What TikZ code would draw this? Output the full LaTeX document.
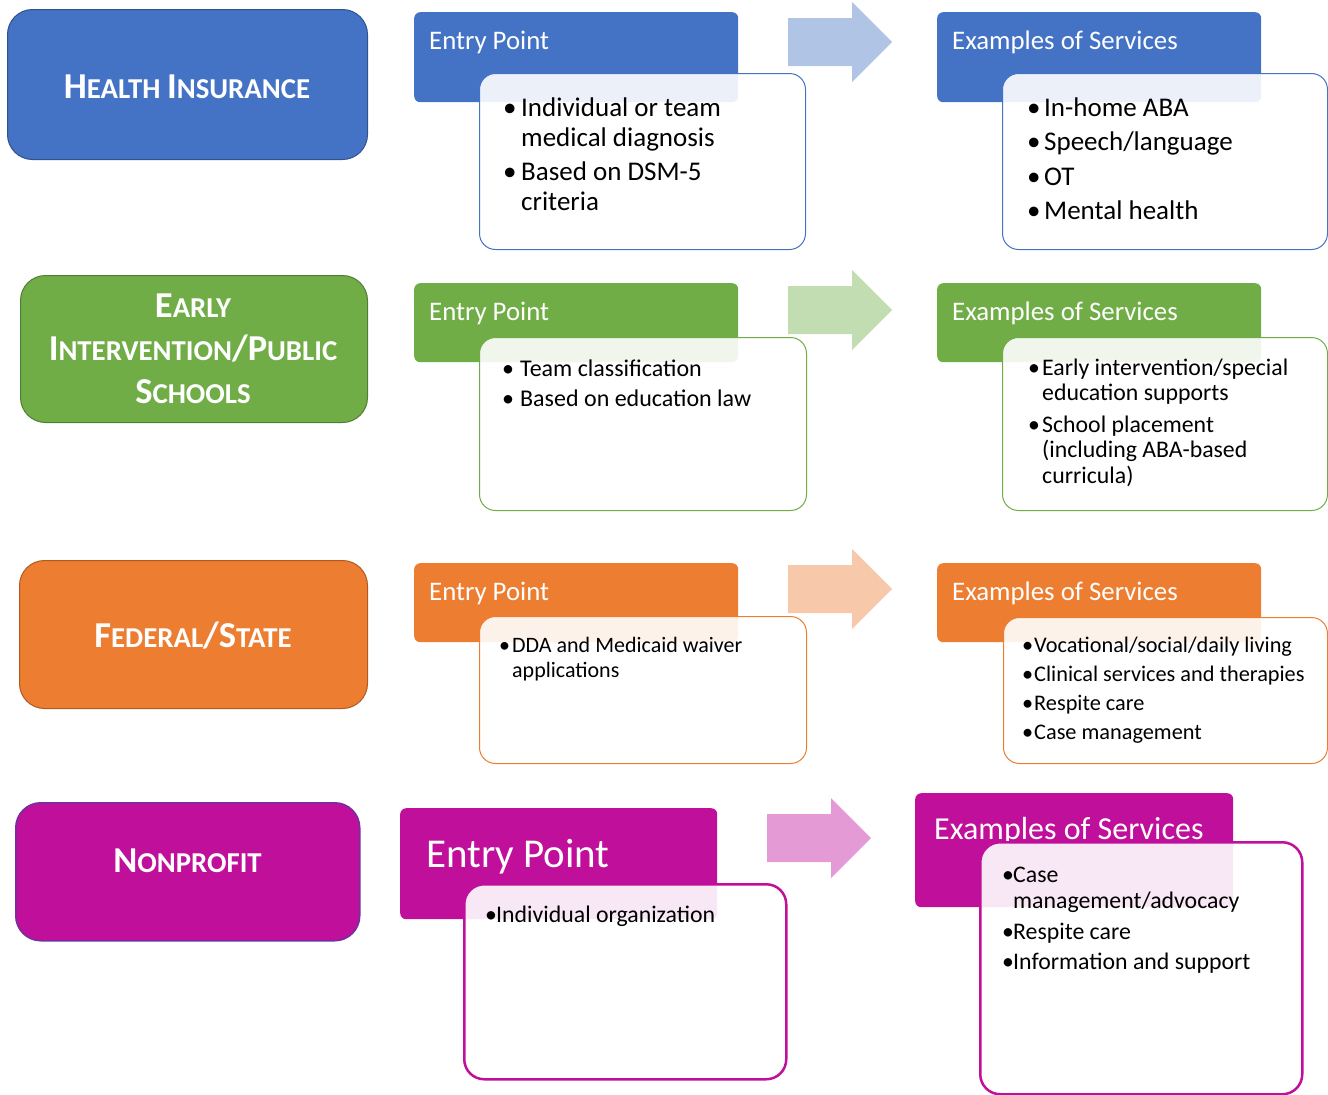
\documentclass[tikz,border=0pt]{standalone}
\usepackage{fontspec}
\setmainfont{Carlito}
\usetikzlibrary{positioning}

\definecolor{hblue}{HTML}{4472C4}
\definecolor{hblueD}{HTML}{2F528F}
\definecolor{hgreen}{HTML}{70AD47}
\definecolor{hgreenD}{HTML}{507E32}
\definecolor{horange}{HTML}{ED7D31}
\definecolor{horangeD}{HTML}{AE5A21}
\definecolor{hmag}{HTML}{C00F9A}
\definecolor{hmagD}{HTML}{7030A0}

% small caps by hand: big first letter, smaller rest
\newcommand\capword[2]{{\fontsize{36.5}{40}\selectfont #1}{\fontsize{28.8}{40}\selectfont #2}}
% bullet in a box of given width
\newcommand\bl[1]{\makebox[#1pt][l]{\textbullet}}

\begin{document}
\begin{tikzpicture}[x=1pt, y=-1pt,
    catbox/.style={rounded corners=25pt, line width=1pt, anchor=north west, inner sep=0pt},
    lbl/.style={anchor=base, inner sep=0pt, text=white, font=\bfseries\fontsize{28.8}{43}\selectfont},
    hdr/.style={rounded corners=6pt, anchor=north west, inner sep=0pt},
    hdrtxt/.style={anchor=base west, inner sep=0pt, text=white, font=\fontsize{26.8}{30}\selectfont},
    body/.style={rounded corners=16pt, fill=white, fill opacity=0.9, line width=1pt, anchor=north west, inner sep=0pt},
    items/.style={anchor=base west, inner sep=0pt, text=black}
  ]
  \useasboundingbox (0,0) rectangle (1328,1095);

  % block arrows between entry point and services
  \foreach \ax/\ay/\ac in {788/42/hblue, 788/310/hgreen, 788/589/horange, 767/838/hmag}
    \fill[\ac!42!white] (\ax,\ay-24) -- (\ax+64,\ay-24) -- (\ax+64,\ay-40) -- (\ax+104,\ay)
      -- (\ax+64,\ay+40) -- (\ax+64,\ay+24) -- (\ax,\ay+24) -- cycle;

  % health insurance
  \node[catbox, fill=hblue, draw=hblueD, minimum width=360pt, minimum height=150pt] (hi) at (7,9) {};
  \node[lbl] (hiT) at (187,98) {\capword{H}{EALTH} \capword{I}{NSURANCE}};
  \node[hdr, fill=hblue, minimum width=324pt, minimum height=90pt] (hiE) at (414,12) {};
  \node[hdrtxt] (hiEt) at (429,49) {Entry Point};
  \node[body, draw=hblue, minimum width=326pt, minimum height=176pt] (hiEb) at (479,73) {};
  \node[items, font=\fontsize{27}{30}\selectfont] (hiEi) at (503,116) {\begin{tabular}[t]{@{}l@{}l@{}}
      \bl{18} & Individual or team\\ & medical diagnosis\\[4pt]
      \bl{18} & Based on DSM-5\\ & criteria\end{tabular}};
  \node[hdr, fill=hblue, minimum width=324pt, minimum height=90pt] (hiS) at (937,12) {};
  \node[hdrtxt] (hiSt) at (952,49) {Examples of Services};
  \node[body, draw=hblue, minimum width=325pt, minimum height=176pt] (hiSb) at (1002,73) {};
  \node[items, font=\fontsize{27}{34.5}\selectfont] (hiSi) at (1027,116) {\begin{tabular}[t]{@{}l@{}l@{}}
      \bl{17} & In-home ABA\\ \bl{17} & Speech/language\\
      \bl{17} & OT\\ \bl{17} & Mental health\end{tabular}};

  % early intervention / public schools
  \node[catbox, fill=hgreen, draw=hgreenD, minimum width=347pt, minimum height=147pt] (ei) at (20,275) {};
  \node[lbl] (eiT) at (193,317) {\begin{tabular}[t]{@{}c@{}}
      \capword{E}{ARLY}\\ \capword{I}{NTERVENTION}\capword{/P}{UBLIC}\\ \capword{S}{CHOOLS}\end{tabular}};
  \node[hdr, fill=hgreen, minimum width=324pt, minimum height=79pt] (eiE) at (414,283) {};
  \node[hdrtxt] (eiEt) at (429,320) {Entry Point};
  \node[body, draw=hgreen, minimum width=327pt, minimum height=173pt] (eiEb) at (479,337) {};
  \node[items, font=\fontsize{24}{30}\selectfont] (eiEi) at (502,376) {\begin{tabular}[t]{@{}l@{}l@{}}
      \bl{18} & Team classification\\ \bl{18} & Based on education law\end{tabular}};
  \node[hdr, fill=hgreen, minimum width=324pt, minimum height=79pt] (eiS) at (937,283) {};
  \node[hdrtxt] (eiSt) at (952,320) {Examples of Services};
  \node[body, draw=hgreen, minimum width=325pt, minimum height=173pt] (eiSb) at (1002,337) {};
  \node[items, font=\fontsize{23.8}{25.5}\selectfont] (eiSi) at (1028,375) {\begin{tabular}[t]{@{}l@{}l@{}}
      \bl{14} & Early intervention/special\\ & education supports\\[6pt]
      \bl{14} & School placement\\ & (including ABA-based\\ & curricula)\end{tabular}};

  % federal / state
  \node[catbox, fill=horange, draw=horangeD, minimum width=348pt, minimum height=148pt] (fs) at (19,560) {};
  \node[lbl] (fsT) at (193,647) {\capword{F}{EDERAL}\capword{/S}{TATE}};
  \node[hdr, fill=horange, minimum width=324pt, minimum height=79pt] (fsE) at (414,563) {};
  \node[hdrtxt] (fsEt) at (429,600) {Entry Point};
  \node[body, draw=horange, minimum width=327pt, minimum height=147pt] (fsEb) at (479,616) {};
  \node[items, font=\fontsize{22}{25}\selectfont] (fsEi) at (499,652) {\begin{tabular}[t]{@{}l@{}l@{}}
      \bl{13} & DDA and Medicaid waiver\\ & applications\end{tabular}};
  \node[hdr, fill=horange, minimum width=324pt, minimum height=79pt] (fsS) at (937,563) {};
  \node[hdrtxt] (fsSt) at (952,600) {Examples of Services};
  \node[body, draw=horange, minimum width=324pt, minimum height=146pt] (fsSb) at (1003,617) {};
  \node[items, font=\fontsize{22.3}{29}\selectfont] (fsSi) at (1022,652) {\begin{tabular}[t]{@{}l@{}l@{}}
      \bl{12} & Vocational/social/daily living\\ \bl{12} & Clinical services and therapies\\
      \bl{12} & Respite care\\ \bl{12} & Case management\end{tabular}};

  % nonprofit
  \node[catbox, fill=hmag, draw=hmagD, line width=1.5pt, minimum width=344pt, minimum height=138pt] (np) at (15,802) {};
  \node[lbl] (npT) at (187.5,872) {\capword{N}{ONPROFIT}};
  \node[hdr, fill=hmag, minimum width=317pt, minimum height=111pt] (npE) at (400,808) {};
  \node[hdrtxt, font=\fontsize{41}{45}\selectfont] (npEt) at (426,867) {Entry Point};
  \node[body, draw=hmag, line width=2.5pt, rounded corners=20pt, minimum width=322pt, minimum height=195pt] (npEb) at (463,883) {};
  \node[items, font=\fontsize{23.8}{26}\selectfont] (npEi) at (485,922) {\begin{tabular}[t]{@{}l@{}l@{}}
      \bl{11} & Individual organization\end{tabular}};
  \node[hdr, fill=hmag, minimum width=318pt, minimum height=114pt] (npS) at (915,793) {};
  \node[hdrtxt, font=\fontsize{32}{36}\selectfont] (npSt) at (934,839) {Examples of Services};
  \node[body, draw=hmag, line width=2.5pt, rounded corners=20pt, minimum width=322pt, minimum height=252pt] (npSb) at (979,841) {};
  \node[items, font=\fontsize{23.8}{26}\selectfont] (npSi) at (1002,882) {\begin{tabular}[t]{@{}l@{}l@{}}
      \bl{11} & Case\\ & management/advocacy\\[5pt]
      \bl{11} & Respite care\\[4pt] \bl{11} & Information and support\end{tabular}};
\end{tikzpicture}
\end{document}
